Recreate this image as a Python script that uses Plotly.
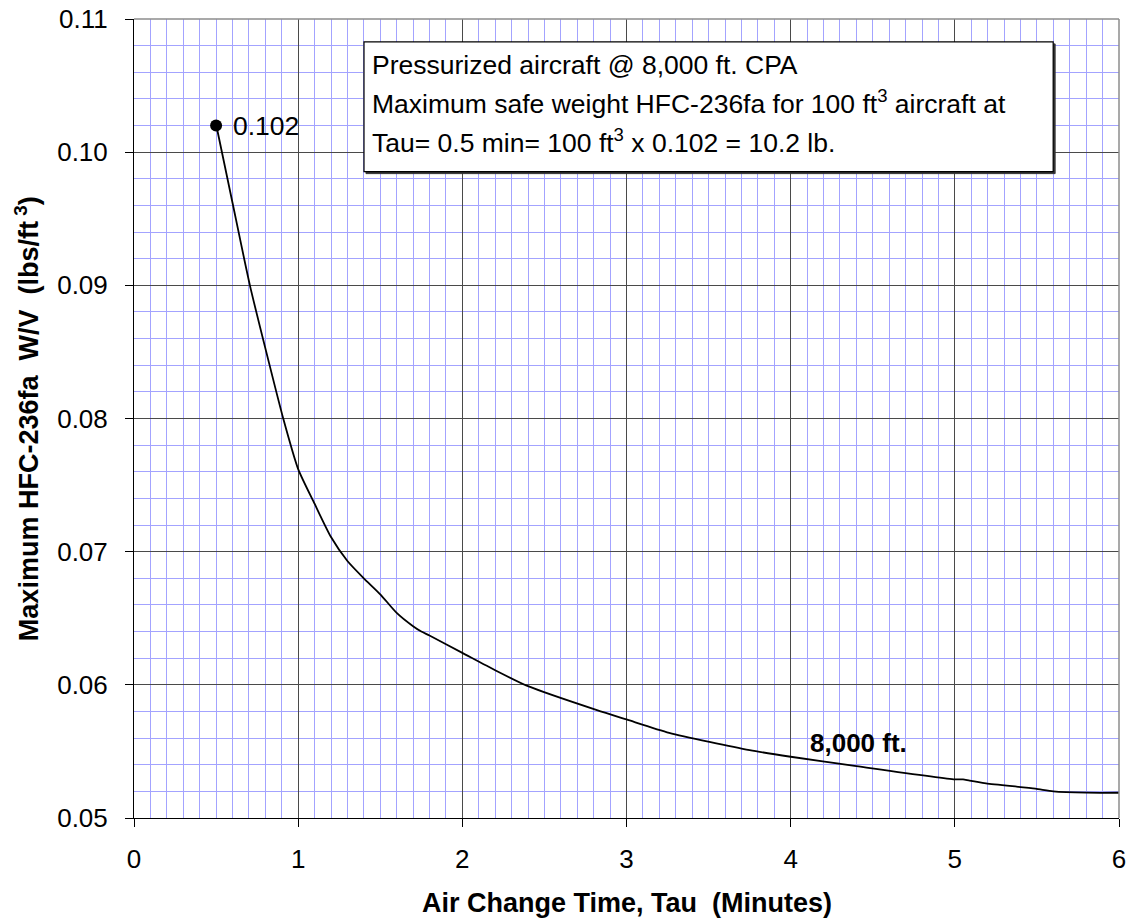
import plotly.graph_objects as go

# ---- data ----
tau = [0.5, 0.6, 0.706, 0.824, 0.909, 1.0, 1.1, 1.2, 1.3, 1.4, 1.5, 1.6, 1.7, 1.75, 1.8,
       2.0, 2.2, 2.4, 2.82, 3.0, 3.26, 3.75, 4.0, 4.4, 5.0, 5.05, 5.09, 5.19, 5.49, 5.6, 5.8, 6.05]
wv = [0.1021, 0.0962, 0.0900, 0.0841, 0.0800, 0.0762, 0.0736, 0.0711, 0.0693, 0.0680, 0.0668,
      0.0654, 0.0644, 0.0640, 0.0637, 0.0624, 0.0611, 0.0599, 0.0581, 0.0574, 0.0564, 0.0551,
      0.0546, 0.0539, 0.0529, 0.0529, 0.0528, 0.0526, 0.0522, 0.0520, 0.0519, 0.0519]
marker_x = [0.5]
marker_y = [0.102]
marker_label = "0.102"
curve_label = "8,000 ft."
box_lines = [
    "Pressurized aircraft @ 8,000 ft. CPA",
    "Maximum safe weight HFC-236fa for 100 ft<sup>3</sup> aircraft at",
    "Tau= 0.5 min= 100 ft<sup>3</sup> x 0.102 = 10.2 lb.",
]
x_title = "Air Change Time, Tau  (Minutes)"
y_title = "Maximum HFC-236fa  W/V  (lbs/ft<sup> 3</sup>)"
x_ticks = [0, 1, 2, 3, 4, 5, 6]
y_ticks = [0.05, 0.06, 0.07, 0.08, 0.09, 0.10, 0.11]

FONT = "Liberation Sans, Arial, sans-serif"

fig = go.Figure()
fig.add_trace(go.Scatter(x=tau, y=wv, mode="lines",
                         line=dict(color="black", width=1.8, shape="spline", smoothing=0.6),
                         showlegend=False, hoverinfo="skip"))
fig.add_trace(go.Scatter(x=marker_x, y=marker_y, mode="markers",
                         marker=dict(color="black", size=12), showlegend=False,
                         cliponaxis=False))

# text box (shadow + box)
bx0, bx1, by0, by1 = 1.401, 5.599, 0.09854, 0.10828
fig.add_shape(type="rect", x0=bx0 + 0.012, x1=bx1 + 0.012, y0=by0 - 0.00015, y1=by1 - 0.00015,
              line=dict(color="#333333", width=1), fillcolor="#333333", layer="above")
fig.add_shape(type="rect", x0=bx0, x1=bx1, y0=by0, y1=by1,
              line=dict(color="black", width=1.2), fillcolor="white", layer="above")

line_y = [0.10655, 0.10376, 0.10085]
for txt, yy in zip(box_lines, line_y):
    fig.add_annotation(x=1.445, y=yy, text=txt, showarrow=False, xanchor="left",
                       yanchor="middle", borderpad=0,
                       font=dict(family=FONT, size=26.5, color="black"))

# top / right border
fig.add_shape(type="line", xref="paper", yref="paper", x0=0, x1=1, y0=1, y1=1,
              line=dict(color="#8c8c8c", width=1.5))
fig.add_shape(type="line", xref="paper", yref="paper", x0=1, x1=1, y0=0, y1=1,
              line=dict(color="#8c8c8c", width=1.5))

fig.add_annotation(x=marker_x[0], y=marker_y[0], text=marker_label, showarrow=False,
                   xanchor="left", yanchor="middle", xshift=15,
                   font=dict(family=FONT, size=26.5, color="black"))
fig.add_annotation(x=4.105, y=0.05565, text="<b>" + curve_label + "</b>", showarrow=False,
                   xanchor="left", yanchor="middle",
                   font=dict(family=FONT, size=26, color="black"))

fig.add_annotation(xref="paper", yref="paper", x=0.5, y=-0.1064, text="<b>" + x_title + "</b>",
                   showarrow=False, xanchor="center", yanchor="middle",
                   font=dict(family=FONT, size=27, color="black"))
fig.add_annotation(xref="paper", yref="paper", x=-0.109, y=0.5, text="<b>" + y_title + "</b>",
                   showarrow=False, xanchor="center", yanchor="middle", textangle=-90,
                   font=dict(family=FONT, size=27, color="black"))

fig.update_xaxes(range=[0, 6], tickvals=x_ticks, ticks="outside", ticklen=8,
                 tickcolor="black", showline=True, linecolor="black", linewidth=1,
                 showgrid=True, gridcolor="#4a4a4a", gridwidth=1, zeroline=False,
                 automargin=False,
                 tickfont=dict(family=FONT, size=26, color="black"),
                 ticklabelstandoff=10,
                 minor=dict(dtick=0.1, tick0=0, showgrid=True, gridcolor="#a3a3ff",
                            gridwidth=1, ticks=""))
fig.update_yaxes(range=[0.05, 0.11], tickvals=y_ticks, tickformat=".2f", ticks="outside",
                 ticklen=8, tickcolor="black", showline=True, linecolor="black",
                 linewidth=1, showgrid=True, gridcolor="#4a4a4a", gridwidth=1,
                 zeroline=False, automargin=False,
                 tickfont=dict(family=FONT, size=26, color="black"),
                 ticklabelstandoff=12,
                 minor=dict(dtick=0.002, tick0=0.05, showgrid=True, gridcolor="#a3a3ff",
                            gridwidth=1, ticks=""))

fig.update_layout(width=1132, height=921,
                  margin=dict(l=134, r=13, t=19, b=103, autoexpand=False),
                  paper_bgcolor="white", plot_bgcolor="white",
                  font=dict(family=FONT, color="black"))

fig.write_html("out.html", config={"displayModeBar": False},
               post_script="document.body.style.margin='0';")
